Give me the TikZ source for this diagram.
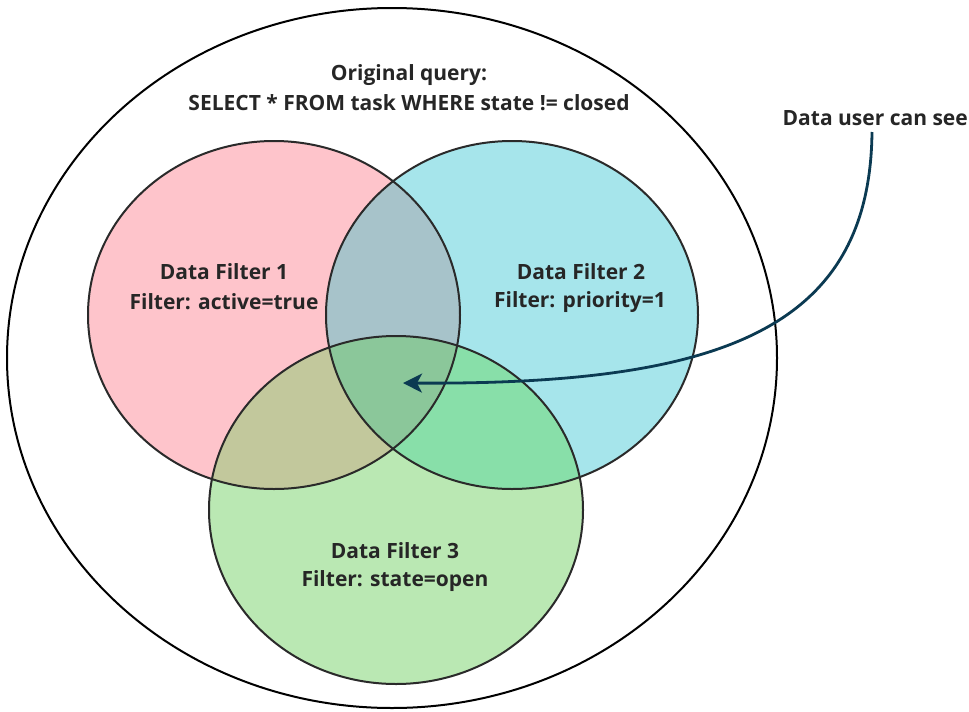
\documentclass[tikz,border=0pt]{standalone}
\usepackage{fontspec}
\setmainfont{Open Sans}
\usetikzlibrary{arrows.meta}
\definecolor{pinkc}{HTML}{FEC4CB}
\definecolor{bluec}{HTML}{A6E5EB}
\definecolor{greenc}{HTML}{BAE8B3}
\definecolor{pbc}{HTML}{A7C3CA}
\definecolor{pgc}{HTML}{C2C89C}
\definecolor{bgc}{HTML}{88DFA9}
\definecolor{allc}{HTML}{8BC79A}
\definecolor{arrowc}{HTML}{0B3A52}
\definecolor{edgec}{HTML}{2A2A2A}
\begin{document}
\begin{tikzpicture}[x=1pt,y=-1pt,
  lbl/.style={font=\fontsize{21}{28}\selectfont\bfseries, text=black!85, align=center, inner sep=0pt},
  ring/.style={draw=edgec, line width=2pt}]
\useasboundingbox (0,0) rectangle (969,712);
\fill[white] (0,0) rectangle (969,712);
\def\pinkE{(274,315) ellipse [x radius=186, y radius=174]}
\def\blueE{(512,315) ellipse [x radius=186, y radius=174]}
\def\greenE{(396,510) ellipse [x radius=187, y radius=174]}
% outer
\draw[black, line width=2pt] (392,358) ellipse [x radius=385, y radius=350];
% fills
\fill[pinkc] \pinkE;
\fill[bluec] \blueE;
\fill[greenc] \greenE;
\begin{scope}\clip \pinkE; \fill[pbc] \blueE; \end{scope}
\begin{scope}\clip \pinkE; \fill[pgc] \greenE; \end{scope}
\begin{scope}\clip \blueE; \fill[bgc] \greenE; \end{scope}
\begin{scope}\clip \pinkE; \clip \blueE; \fill[allc] \greenE; \end{scope}
% outlines
\draw[ring] \pinkE;
\draw[ring] \blueE;
\draw[ring] \greenE;
% labels
\node[lbl] (q1) at (409,75) {Original query:};
\node[lbl] (q2) at (409,103) {SELECT * FROM task WHERE state != closed};
\node[lbl] (f1a) at (224,272) {Data Filter 1};
\node[lbl] (f1b) at (224,302) {Filter: active=true};
\node[lbl] (f2a) at (581,272) {Data Filter 2};
\node[lbl] (f2b) at (580,302) {Filter: priority=1};
\node[lbl] (f3a) at (395,551) {Data Filter 3};
\node[lbl] (f3b) at (395,581) {Filter: state=open};
\node[lbl, anchor=east] (see) at (968,118) {Data user can see};
\coordinate (tip) at (403,383);
\coordinate (start) at (872,132);
\draw[arrowc, line width=2.8pt, -{Stealth[length=19pt,width=19pt,inset=5pt]}]
  (start) .. controls (870,330) and (720,385) .. (tip);
\end{tikzpicture}
\end{document}
